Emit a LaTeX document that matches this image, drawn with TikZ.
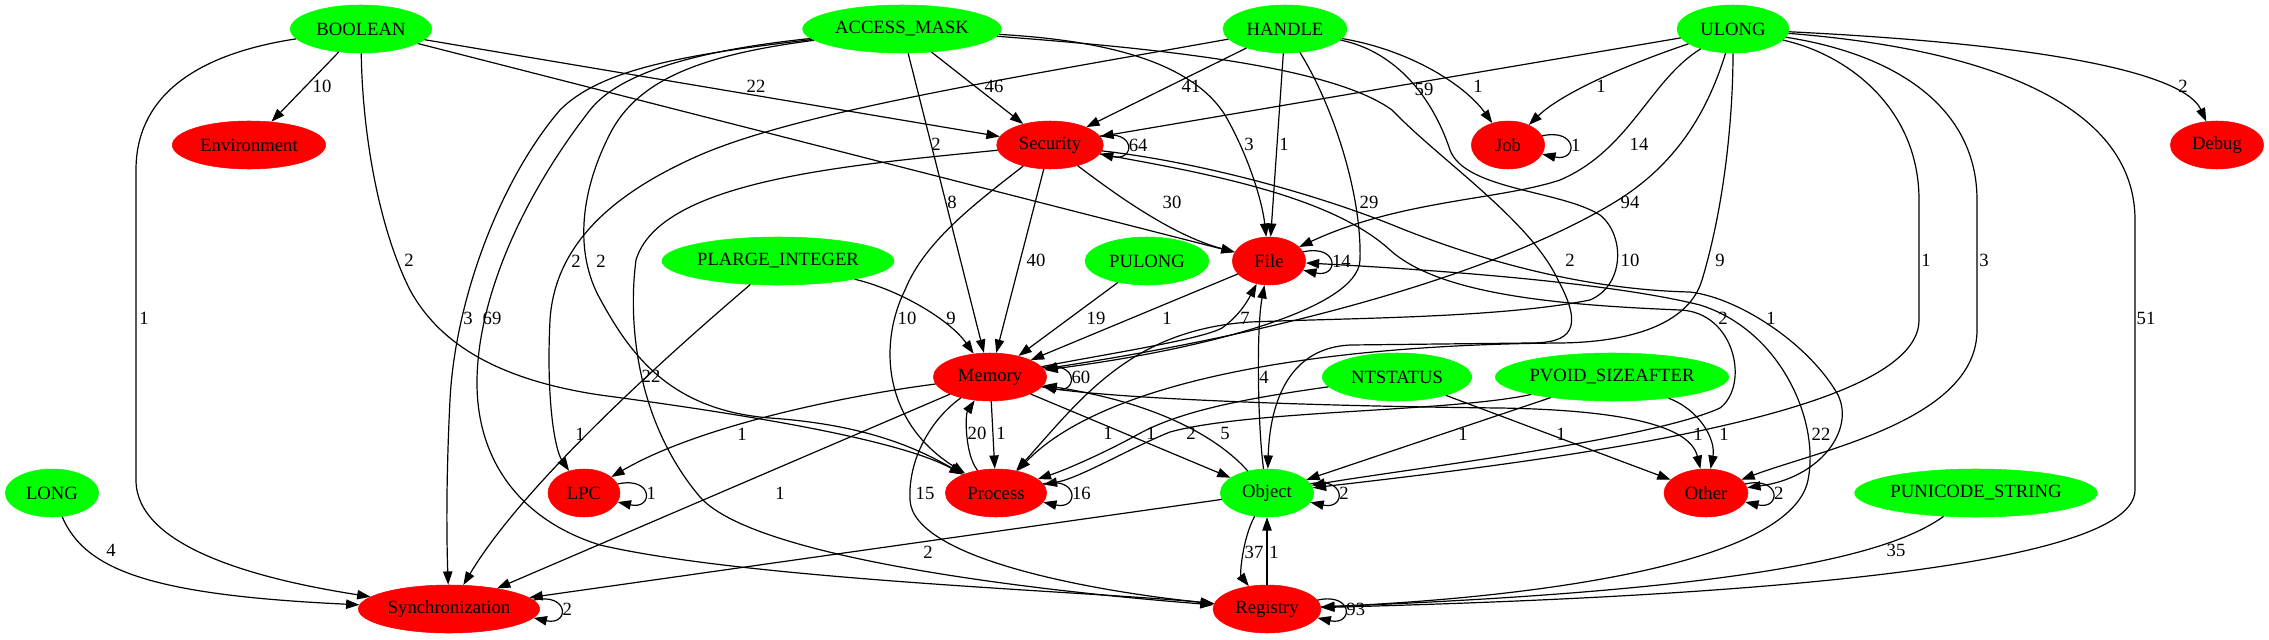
\documentclass[tikz,border=0pt]{standalone}
\usepackage{fontspec}
\setmainfont{Liberation Serif}
\usetikzlibrary{arrows.meta,shapes.geometric}

\begin{document}
\begin{tikzpicture}[x=0.75pt, y=-0.75pt,
    every node/.style={font=\fontsize{14}{17}\selectfont},
    typnode/.style={ellipse, draw=green, fill=green, minimum height=36pt, inner sep=0pt},
    catnode/.style={ellipse, draw=red, fill=red, minimum height=36pt, inner sep=0pt},
    arr/.style={-{Triangle[length=10pt, width=7pt]}, line width=0.9pt},
    lbl/.style={inner sep=0pt}]
  \useasboundingbox (0,0) rectangle (2269,639);

  \node[typnode, minimum width=106pt] (bool) at (361,29) {BOOLEAN};
  \node[typnode, minimum width=149pt] (amask) at (902,29) {ACCESS\_MASK};
  \node[typnode, minimum width=93pt] (handle) at (1285,29) {HANDLE};
  \node[typnode, minimum width=84pt] (ulong) at (1733,29) {ULONG};
  \node[catnode, minimum width=115pt] (env) at (249,145) {Environment};
  \node[catnode, minimum width=80pt] (sec) at (1050,145) {Security};
  \node[catnode, minimum width=55pt] (job) at (1508,145) {Job};
  \node[catnode, minimum width=70pt] (debug) at (2217,145) {Debug};
  \node[typnode, minimum width=174pt] (plarge) at (778,261) {PLARGE\_INTEGER};
  \node[typnode, minimum width=93pt] (pulong) at (1147,261) {PULONG};
  \node[catnode, minimum width=55pt] (file) at (1269,261) {File};
  \node[catnode, minimum width=85pt] (mem) at (990,377) {Memory};
  \node[typnode, minimum width=112pt] (ntstatus) at (1397,377) {NTSTATUS};
  \node[typnode, minimum width=175pt] (pvoid) at (1612,377) {PVOID\_SIZEAFTER};
  \node[typnode, minimum width=70pt] (long) at (52,493) {LONG};
  \node[catnode, minimum width=54pt] (lpc) at (584,493) {LPC};
  \node[catnode, minimum width=76pt] (proc) at (996,493) {Process};
  \node[typnode, minimum width=70pt] (obj) at (1267,493) {Object};
  \node[catnode, minimum width=63pt] (other) at (1706,493) {Other};
  \node[typnode, minimum width=182pt] (pustr) at (1976,493) {PUNICODE\_STRING};
  \node[catnode, minimum width=136pt] (sync) at (449,609) {Synchronization};
  \node[catnode, minimum width=81pt] (reg) at (1267,609) {Registry};

  \draw[arr] (bool) -- (env) node[lbl] at (322,86) {10};
  \draw[arr] (bool) -- (sec) node[lbl] at (756,86) {22};
  \draw[arr] (bool) -- (file) node[lbl] at (936,144) {2};
  \draw[arr] (bool) .. controls (190,55) and (136,100) .. (136,170) -- (136,480) .. controls (136,545) and (250,578) .. (sync) node[lbl] at (144,318) {1};
  \draw[arr] (bool) .. controls (362,120) and (375,220) .. (410,290) .. controls (440,345) and (500,380) .. (600,395) .. controls (750,415) and (900,440) .. (proc) node[lbl] at (409,260) {2};

  \draw[arr] (amask) -- (sec) node[lbl] at (994,86) {46};
  \draw[arr] (amask) -- (mem) node[lbl] at (952,202) {8};
  \draw[arr] (amask) .. controls (1100,40) and (1190,60) .. (1225,115) .. controls (1248,155) and (1262,200) .. (file) node[lbl] at (1249,144) {3};
  \draw[arr] (amask) .. controls (1150,48) and (1330,65) .. (1392,110) .. controls (1440,160) and (1530,220) .. (1558,280) .. controls (1585,330) and (1570,343) .. (1530,343) -- (1350,345) .. controls (1290,348) and (1270,400) .. (obj) node[lbl] at (1570,260) {2};
  \draw[arr] (amask) .. controls (680,55) and (600,70) .. (560,110) .. controls (500,180) and (455,300) .. (450,400) .. controls (447,460) and (446,520) .. (sync) node[lbl] at (468,318) {3};
  \draw[arr] (amask) .. controls (700,50) and (620,72) .. (590,110) .. controls (520,200) and (478,300) .. (477,380) .. controls (476,460) and (520,520) .. (600,545) .. controls (750,580) and (1100,592) .. (reg) node[lbl] at (492,318) {69};
  \draw[arr] (amask) .. controls (700,55) and (640,80) .. (612,130) .. controls (580,190) and (575,250) .. (598,295) .. controls (630,355) and (670,410) .. (770,418) .. controls (870,425) and (920,450) .. (proc) node[lbl] at (601,261) {2};

  \draw[arr] (handle) -- (sec) node[lbl] at (1191,86) {41};
  \draw[arr] (handle) -- (file) node[lbl] at (1284,144) {1};
  \draw[arr] (handle) .. controls (1410,50) and (1465,85) .. (job) node[lbl] at (1478,86) {1};
  \draw[arr] (handle) .. controls (1000,80) and (800,112) .. (700,155) .. controls (620,190) and (555,240) .. (550,320) .. controls (546,400) and (555,450) .. (lpc) node[lbl] at (576,261) {2};
  \draw[arr] (handle) .. controls (1330,100) and (1362,190) .. (1360,260) .. controls (1358,310) and (1200,350) .. (mem) node[lbl] at (1369,202) {29};
  \draw[arr] (handle) .. controls (1390,50) and (1430,90) .. (1450,150) .. controls (1465,190) and (1560,190) .. (1600,215) .. controls (1625,235) and (1625,285) .. (1590,300) .. controls (1500,318) and (1350,318) .. (1250,322) .. controls (1130,330) and (1080,400) .. (proc) node[lbl] at (1630,260) {10};

  \draw[arr] (ulong) -- (sec) node[lbl] at (1424,89) {59};
  \draw[arr] (ulong) .. controls (1640,60) and (1565,90) .. (job) node[lbl] at (1601,86) {1};
  \draw[arr] (ulong) .. controls (1650,80) and (1630,150) .. (1560,180) .. controls (1500,200) and (1400,200) .. (file) node[lbl] at (1639,144) {14};
  \draw[arr] (ulong) .. controls (1705,120) and (1670,170) .. (1610,205) .. controls (1500,270) and (1300,330) .. (mem) node[lbl] at (1630,202) {94};
  \draw[arr] (ulong) .. controls (1733,110) and (1726,200) .. (1702,280) .. controls (1690,320) and (1640,342) .. (1560,343) .. controls (1300,345) and (1100,385) .. (proc) node[lbl] at (1720,260) {9};
  \draw[arr] (ulong) .. controls (1850,55) and (1919,110) .. (1919,200) -- (1919,320) .. controls (1919,410) and (1600,455) .. (obj) node[lbl] at (1926,260) {1};
  \draw[arr] (ulong) .. controls (1900,55) and (1977,110) .. (1977,200) -- (1977,330) .. controls (1977,420) and (1820,450) .. (other) node[lbl] at (1984,260) {3};
  \draw[arr] (ulong) .. controls (2000,50) and (2135,110) .. (2135,220) -- (2135,490) .. controls (2135,580) and (1600,600) .. (reg) node[lbl] at (2146,318) {51};
  \draw[arr] (ulong) .. controls (2060,45) and (2185,75) .. (debug) node[lbl] at (2183,86) {2};

  \draw[arr] (sec) -- (mem) node[lbl] at (1036,260) {40};
  \draw[arr] (sec) .. controls (1110,190) and (1170,235) .. (file) node[lbl] at (1172,202) {30};
  \draw[arr] (sec) .. controls (980,200) and (925,240) .. (905,290) .. controls (880,340) and (880,420) .. (proc) node[lbl] at (907,318) {10};
  \draw[arr] (sec) .. controls (850,165) and (660,180) .. (636,260) .. controls (628,320) and (635,420) .. (700,497) .. controls (760,565) and (1100,596) .. (reg) node[lbl] at (651,376) {22};
  \draw[arr] (sec) .. controls (1200,172) and (1330,195) .. (1390,250) .. controls (1440,295) and (1560,305) .. (1680,310) .. controls (1735,312) and (1750,385) .. (1720,408) .. controls (1650,440) and (1400,470) .. (obj) node[lbl] at (1723,318) {2};
  \draw[arr] (sec) .. controls (1200,162) and (1320,195) .. (1400,228) .. controls (1500,268) and (1600,290) .. (1690,292) .. controls (1740,298) and (1810,345) .. (1838,395) .. controls (1855,430) and (1820,478) .. (other) node[lbl] at (1771,318) {1};

  \draw[arr] (plarge) .. controls (900,290) and (950,320) .. (mem) node[lbl] at (951,318) {9};
  \draw[arr] (plarge) .. controls (650,370) and (520,490) .. (sync) node[lbl] at (580,434) {1};
  \draw[arr] (pulong) -- (mem) node[lbl] at (1096,318) {19};
  \draw[arr] (file) -- (mem) node[lbl] at (1167,318) {1};

  \draw[arr] (mem) .. controls (1100,355) and (1200,340) .. (1222,328) .. controls (1240,315) and (1248,300) .. (file) node[lbl] at (1245,318) {7};
  \draw[arr] (mem) .. controls (850,395) and (700,425) .. (lpc) node[lbl] at (742,434) {1};
  \draw[arr] (mem) -- (proc) node[lbl] at (1001,433) {1};
  \draw[arr] (proc) .. controls (965,455) and (965,415) .. (mem) node[lbl] at (977,433) {20};
  \draw[arr] (mem) -- (obj) node[lbl] at (1108,433) {1};
  \draw[arr] (mem) -- (sync) node[lbl] at (780,493) {1};
  \draw[arr] (mem) .. controls (930,420) and (908,460) .. (910,500) .. controls (913,560) and (1100,592) .. (reg) node[lbl] at (925,493) {15};
  \draw[arr] (mem) .. controls (1100,398) and (1300,406) .. (1500,408) .. controls (1620,410) and (1690,425) .. (other) node[lbl] at (1698,434) {1};

  \draw[arr] (ntstatus) .. controls (1250,398) and (1180,410) .. (1135,436) .. controls (1100,455) and (1065,470) .. (proc) node[lbl] at (1151,433) {1};
  \draw[arr] (ntstatus) -- (other) node[lbl] at (1561,434) {1};
  \draw[arr] (pvoid) .. controls (1450,412) and (1250,410) .. (1170,432) .. controls (1130,448) and (1080,478) .. (proc) node[lbl] at (1191,433) {2};
  \draw[arr] (pvoid) -- (obj) node[lbl] at (1463,434) {1};
  \draw[arr] (pvoid) .. controls (1700,410) and (1716,440) .. (other) node[lbl] at (1724,434) {1};

  \draw[arr] (long) .. controls (85,570) and (150,595) .. (sync) node[lbl] at (111,550) {4};
  \draw[arr] (obj) .. controls (1258,430) and (1256,330) .. (file) node[lbl] at (1264,377) {4};
  \draw[arr] (obj) .. controls (1225,445) and (1170,405) .. (mem) node[lbl] at (1225,433) {5};
  \draw[arr] (obj) -- (sync) node[lbl] at (928,552) {2};
  \draw[arr] (obj) .. controls (1242,540) and (1240,575) .. (reg) node[lbl] at (1254,552) {37};
  \draw[arr] (reg) -- (obj) node[lbl] at (1274,552) {1};
  \draw[arr] (reg) .. controls (1500,600) and (1790,570) .. (1808,480) .. controls (1820,420) and (1780,330) .. (1700,305) .. controls (1600,280) and (1400,268) .. (file) node[lbl] at (1821,434) {22};
  \draw[arr] (pustr) .. controls (1890,555) and (1750,590) .. (reg) node[lbl] at (1896,550) {35};

  \foreach \n/\c/\a in {sec/64/10, job/1/15, file/14/15, mem/60/10, lpc/1/15, proc/16/11, obj/2/12, other/2/13, sync/2/6, reg/93/10}
    \draw[arr] (\n.\a) .. controls +(36,-8) and +(36,8) .. (\n.-\a) node[lbl, pos=.5, right=1pt] {\c};
\end{tikzpicture}
\end{document}
